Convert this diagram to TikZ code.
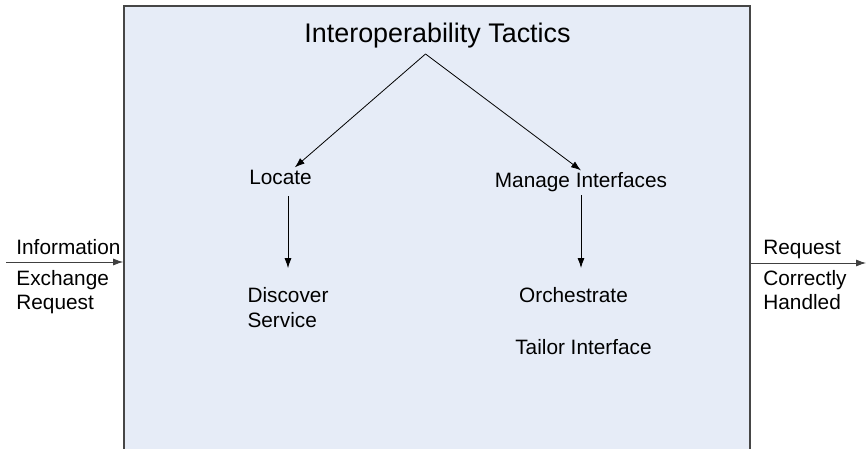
\documentclass[tikz,border=0pt]{standalone}
\usepackage{fontspec}
\setmainfont{Liberation Sans}
\usepackage{tikz}
\usetikzlibrary{arrows.meta}
\definecolor{panelblue}{RGB}{230,236,247}
\definecolor{rimgray}{RGB}{70,70,70}

\begin{document}
\begin{tikzpicture}[x=0.5pt,y=-0.5pt,node distance=2cm,->,>={Latex[length=5pt,width=3.5pt]},
	tactic/.style={inner sep=1pt,text height=0.75em,text depth=0.25em,font=\fontsize{10.4}{12.3}\selectfont},
	stim/.style={inner sep=1pt,align=left,font=\fontsize{10.4}{12.3}\selectfont}]
		\useasboundingbox (0,0) rectangle (868,449);
		\node[draw=rimgray,fill=panelblue,line width=0.8pt,minimum width=313pt,minimum height=232pt,inner sep=0pt] (frame) at (437,238) {};
		\node[anchor=base,font=\fontsize{13.45}{16}\selectfont] (title) at (437.5,43) {Interoperability Tactics};
		\coordinate (apex) at (425.5,54);
		\node[tactic] (locate) at (280.5,179.8) {Locate};
		\node[tactic] (manage) at (581,182.8) {Manage Interfaces};
		\node[stim] (discover) at (288,307.5) {Discover\\Service};
		\node[tactic] (orchestrate) at (573.5,297.8) {Orchestrate};
		\node[tactic] (tailor) [below of= orchestrate,node distance=26pt,xshift=5pt] {Tailor Interface};
		\draw[->] (apex) to (locate);
		\draw[->] (apex) to (manage.north);
		\draw[->,shorten <=2pt,shorten >=8.5pt] (locate.south -| discover.north) to (discover.north);
		\draw[->,shorten >=8.7pt] (manage.south) to (manage.south |- orchestrate.north);
		\coordinate (inlet) at (6,262);
		\coordinate (outlet) at (866,263);
		\node[stim,anchor=base west] (info) at (14,255) {Information};
		\node[stim,anchor=west] (exchange) at (14,292) {Exchange\\Request};
		\node[stim,anchor=base west] (request) at (761,255) {Request};
		\node[stim,anchor=west] (handled) at (761,290) {Correctly\\Handled};
		\draw[->,black!75] (inlet) to (inlet -| frame.west);
		\draw[->,black!75] (frame.east |- outlet) to (outlet);
\end{tikzpicture}
\end{document}
